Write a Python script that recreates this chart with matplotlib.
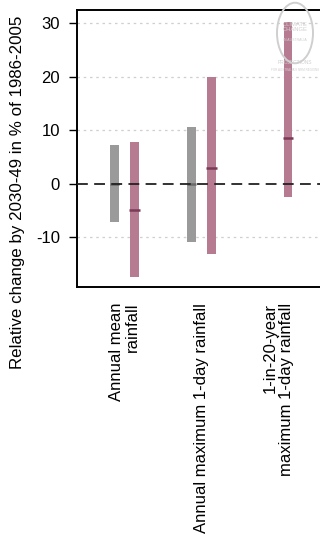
import matplotlib
matplotlib.use("Agg")
import matplotlib.pyplot as plt
from matplotlib.patches import Circle

plt.rcParams['font.family'] = ['Liberation Sans', 'DejaVu Sans']

categories = ["Annual mean\nrainfall", "Annual maximum 1-day rainfall",
              "1-in-20-year\nmaximum 1-day rainfall"]
# gray series (natural variability), None where absent
gray_low = [-7.1, -10.8, None]
gray_high = [7.2, 10.7, None]
gray_med = [0.0, 0.0, None]
# pink series (projected change)
pink_low = [-17.3, -13.1, -2.4]
pink_high = [7.9, 20.0, 30.3]
pink_med = [-4.9, 3.05, 8.65]
yticks = [-10, 0, 10, 20, 30]

fig = plt.figure(figsize=(3.2, 5.38), dpi=100)
ax = fig.add_axes([77/320, 1-287/538, 245/320, (287-10)/538])

off = 0.13
w = 0.117
gray_c = '#9a9a9a'
pink_c = '#b77b91'
for i in range(len(categories)):
    if gray_low[i] is not None:
        ax.bar(i - off, gray_high[i] - gray_low[i], bottom=gray_low[i], width=w,
               color=gray_c, zorder=3)
        ax.hlines(gray_med[i], i - off - w/2, i - off + w/2, color='#6a6a6a', lw=1.8, zorder=4)
    ax.bar(i + off, pink_high[i] - pink_low[i], bottom=pink_low[i], width=w,
           color=pink_c, zorder=3)
    ax.hlines(pink_med[i], i + off - w/2 - 0.01, i + off + w/2 + 0.01, color='#7a3a58', lw=1.8, zorder=4)

ax.set_xlim(-0.619, 2.573)
ax.set_ylim(-19.25, 32.5)
ax.set_yticks(yticks)
ax.set_yticklabels([str(v) for v in yticks], fontsize=12)
for v in yticks:
    if v != 0:
        ax.axhline(v, color='#cfcfcf', lw=0.9, ls=(0, (2, 3)), zorder=1)
ax.axhline(0, color='#222222', lw=1.3, ls=(0, (6, 3.5)), zorder=5)

ax.set_xticks(range(len(categories)))
ax.set_xticklabels(categories, rotation=90, fontsize=12, va='top', ha='center',
                   multialignment='right', linespacing=1.1)
ax.tick_params(axis='x', length=0, pad=11.5)
ax.tick_params(axis='y', length=5.8, width=1, pad=6.5)

for s in ax.spines.values():
    s.set_linewidth(1.4)

fig.text(18/320, 1-192/538, "Relative change by 2030-49 in % of 1986-2005",
         rotation=90, ha='center', va='center', fontsize=12.2)

# faint watermark
wm = '#cfcfcf'
circ = Circle((295/320, 1-33/538), 18/320, transform=fig.transFigure,
              fill=False, ec=wm, lw=1.4, zorder=10)
fig.patches.append(circ)
fig.text(295/320, 1-27/538, "CLIMATE\nCHANGE", ha='center', va='center',
         fontsize=4.2, color=wm, linespacing=1.0)
fig.text(295/320, 1-40/538, "IN AUSTRALIA", ha='center', va='center',
         fontsize=2.5, color=wm)
fig.text(295/320, 1-63/538, "PROJECTIONS", ha='center', va='center',
         fontsize=3.5, color=wm)
fig.text(295/320, 1-70/538, "FOR AUSTRALIA'S NRM REGIONS", ha='center', va='center',
         fontsize=2.2, color=wm)

fig.savefig("out.png", dpi=100)
